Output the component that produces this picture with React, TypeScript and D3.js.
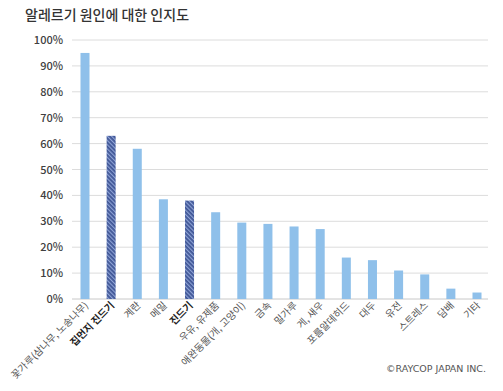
import React from 'react';
import * as d3 from 'd3';

const categories = [
  '꽃가루(삼나무, 노송나무)', '집먼지 진드기', '계란', '메밀', '진드기',
  '우유, 유제품', '애완동물(개, 고양이)', '금속', '밀가루', '게, 새우',
  '포름알데히드', '대두', '유전', '스트레스', '담배', '기타',
];
const values = [95, 63, 58, 38.5, 38, 33.5, 29.5, 29, 28, 27, 16, 15, 11, 9.5, 4, 2.5];
const highlighted = ['집먼지 진드기', '진드기'];
const yTicks = [0, 10, 20, 30, 40, 50, 60, 70, 80, 90, 100];

const WIDTH = 503;
const HEIGHT = 391;
const LEFT = 72;
const RIGHT = 488;
const TOP = 40;
const BOTTOM = 299;
const FONT = '"Noto Sans CJK KR", "Noto Sans", sans-serif';

const App = () => {
  const x = d3.scaleBand<string>()
    .domain(categories)
    .range([LEFT, RIGHT + 2])
    .paddingInner(0.655)
    .paddingOuter(0.325);
  const y = d3.scaleLinear()
    .domain([0, 100])
    .range([BOTTOM, TOP]);

  return (
    <svg
      width={WIDTH}
      height={HEIGHT}
      style={{ position: 'absolute', left: 0, top: 0, background: '#fff' }}
    >
      <defs>
        <pattern id="hatch" width="3" height="3" patternUnits="userSpaceOnUse" patternTransform="rotate(-45)">
          <rect width="3" height="3" fill="#3f5595" />
          <rect width="1.2" height="3" fill="#8ea3d6" />
        </pattern>
      </defs>
      <text x={25} y={20} fontSize={14} fontWeight={500} fill="#333" fontFamily={FONT}>
        알레르기 원인에 대한 인지도
      </text>
      {yTicks.map(t => (
        <g key={t}>
          <line x1={LEFT} x2={RIGHT} y1={y(t)} y2={y(t)} stroke={t === 0 ? '#c8c8c8' : '#dcdcdc'} strokeWidth={1} />
          <text
            x={63}
            y={y(t) + 4}
            textAnchor="end"
            fontSize={11}
            fontWeight={500}
            fill="#404040"
            fontFamily={FONT}
          >
            {`${t}%`}
          </text>
        </g>
      ))}
      {categories.map((c, i) => (
        <rect
          key={c}
          x={x(c)}
          y={y(values[i])}
          width={x.bandwidth()}
          height={BOTTOM - y(values[i])}
          fill={highlighted.includes(c) ? 'url(#hatch)' : '#8fc0ea'}
        />
      ))}
      {categories.map(c => {
        const cx = (x(c) as number) + x.bandwidth() / 2 + 4;
        const bold = highlighted.includes(c);
        return (
          <text
            key={c}
            transform={`translate(${cx},${BOTTOM + 7}) rotate(-45)`}
            textAnchor="end"
            fontSize={10}
            fontWeight={bold ? 700 : 400}
            fill={bold ? '#222' : '#555'}
            fontFamily={FONT}
          >
            {c}
          </text>
        );
      })}
      <text x={486} y={372} textAnchor="end" fontSize={9.5} fill="#555" fontFamily='"DejaVu Sans", Verdana, sans-serif'>
        ©RAYCOP JAPAN INC.
      </text>
    </svg>
  );
};

export default App;
